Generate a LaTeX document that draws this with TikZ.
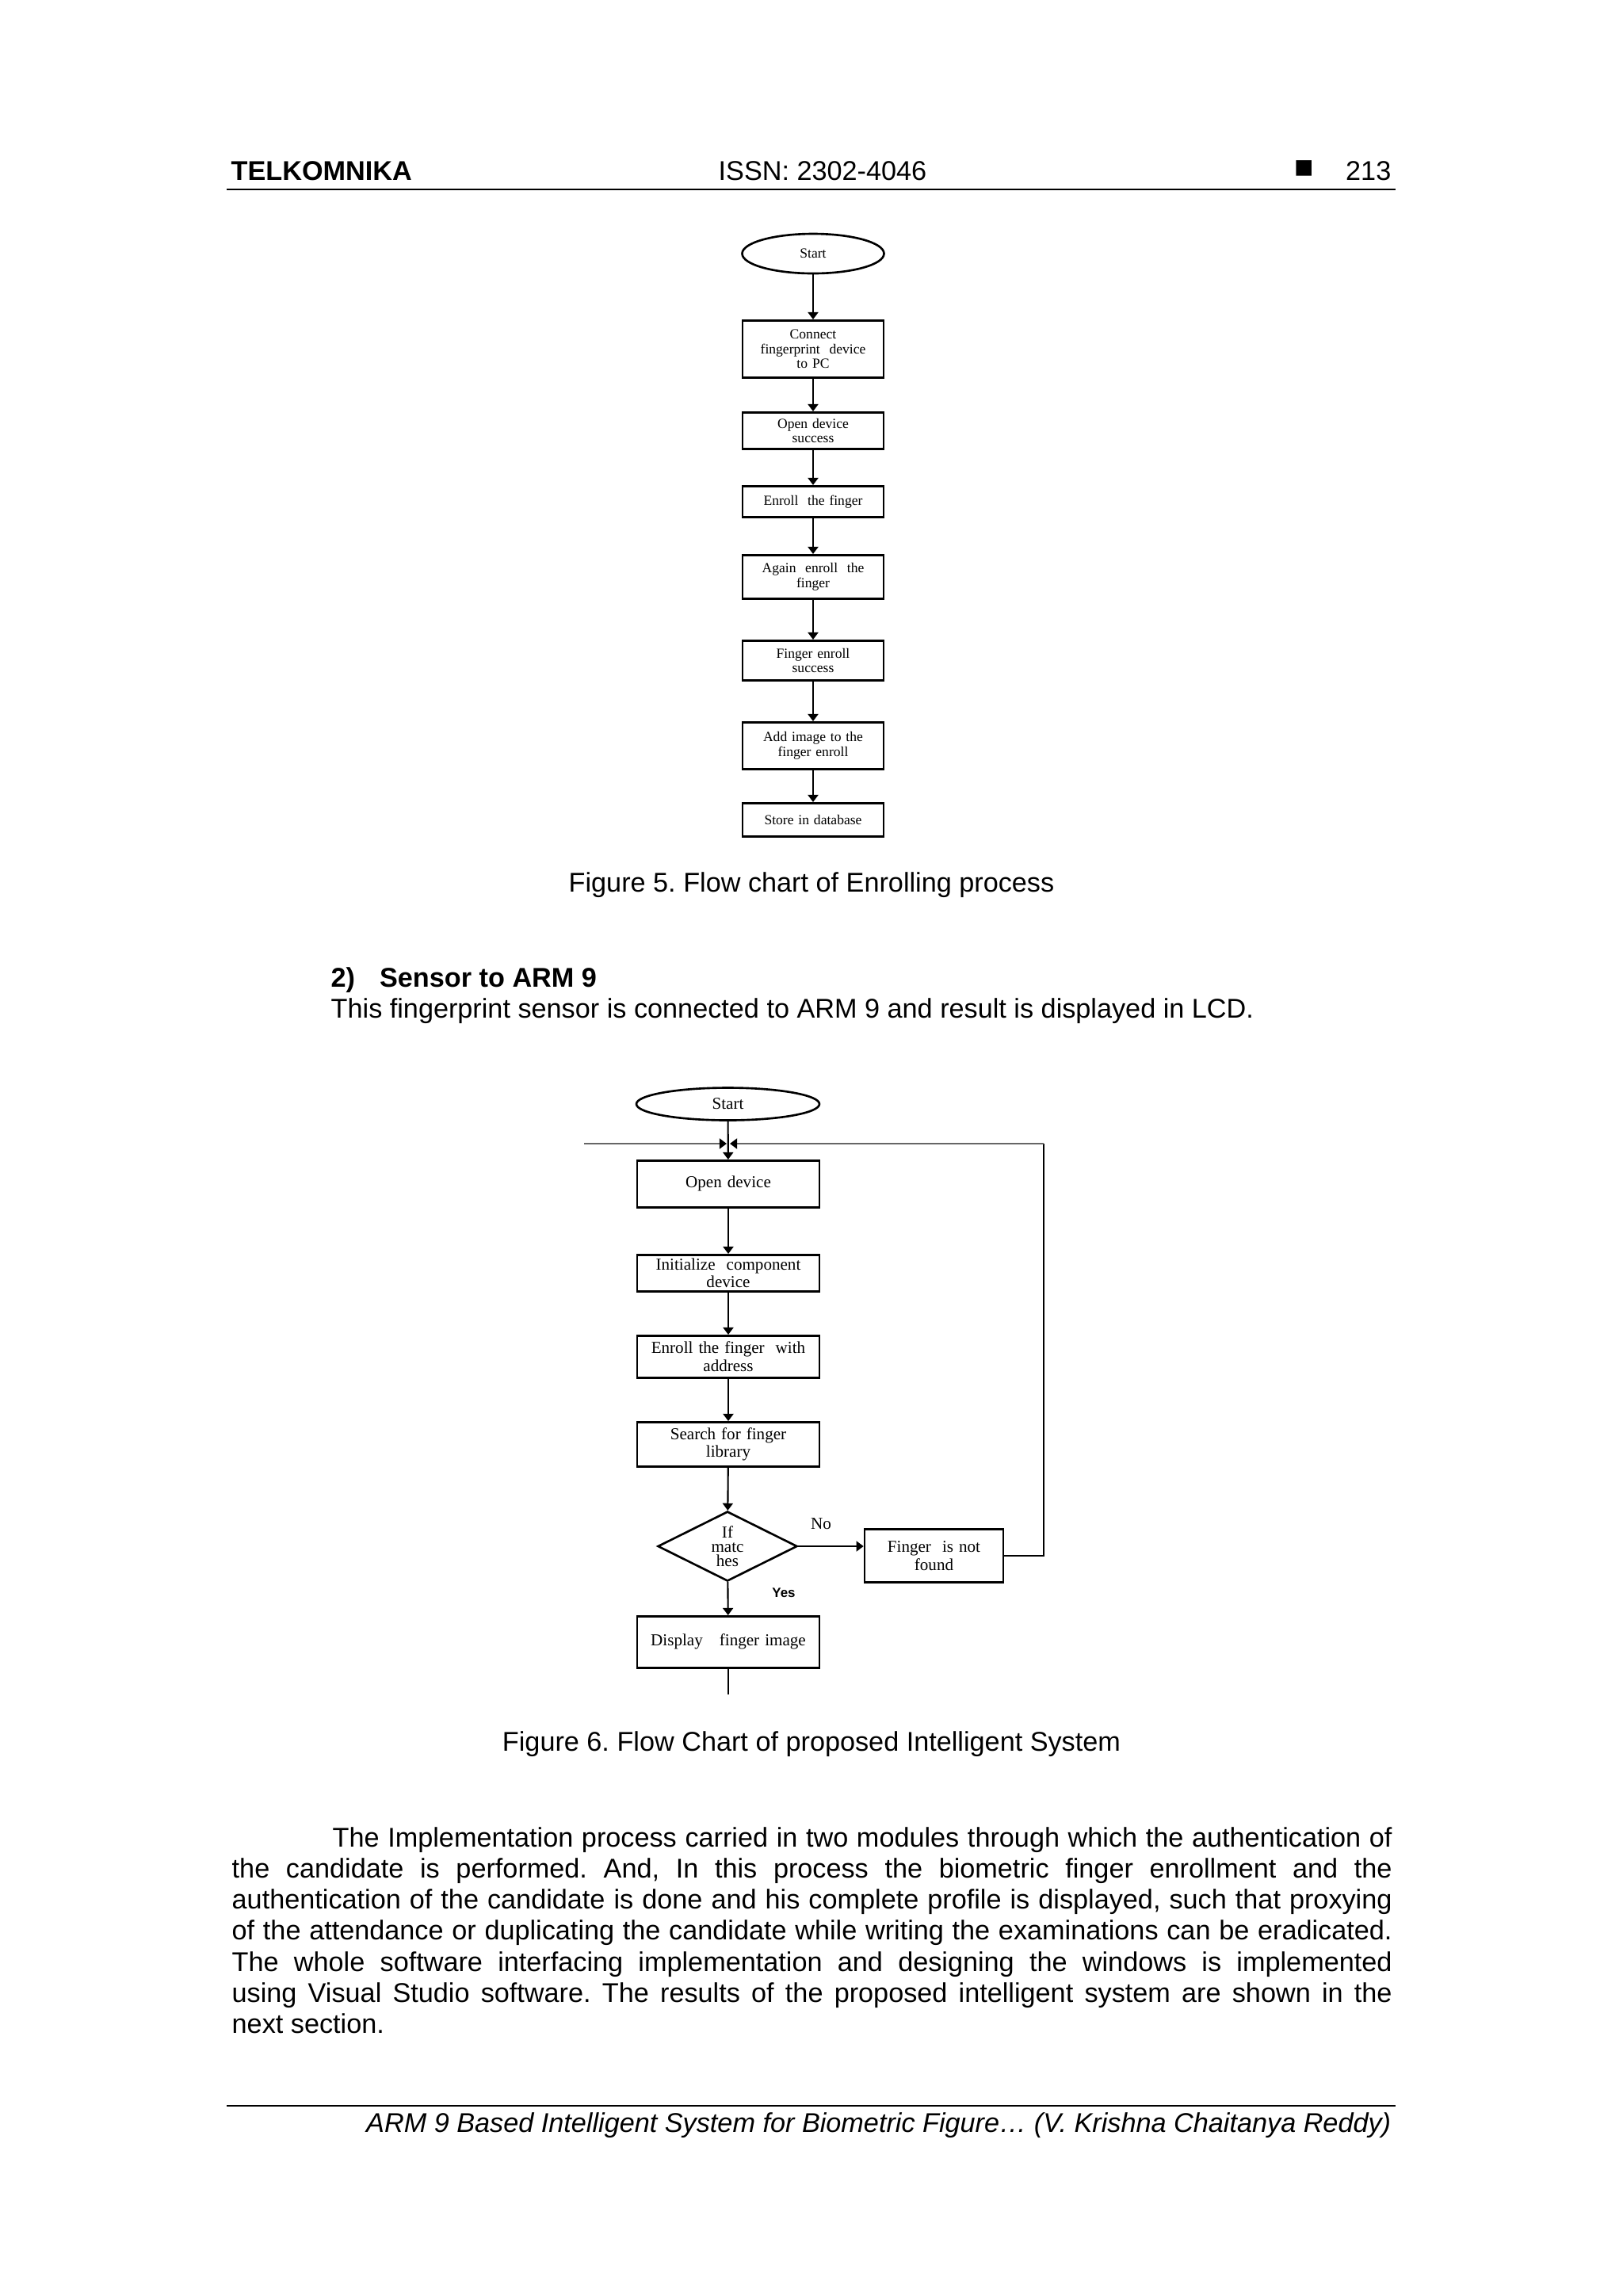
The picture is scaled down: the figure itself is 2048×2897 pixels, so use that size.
\documentclass[tikz,border=0pt]{standalone}
\usepackage{fontspec}
\setmainfont{Liberation Sans}
\newfontfamily\chartfont{Liberation Serif}
\usetikzlibrary{shapes.geometric,arrows.meta}
\newcommand{\bodysize}{\fontsize{9.74pt}{11.18pt}\selectfont\frenchspacing}
\newcommand{\enrolsize}{\chartfont\fontsize{5pt}{5.2pt}\selectfont}
\newcommand{\flowsize}{\chartfont\fontsize{6pt}{5.1pt}\selectfont}
\tikzstyle{texte} = [inner sep=0pt, font=\bodysize]
\tikzstyle{enrolstart} = [ellipse, draw=black, line width=0.75pt, minimum width=17.9mm, minimum height=5mm, inner sep=0pt, font=\enrolsize]
\tikzstyle{enrolbox} = [rectangle, draw=black, line width=0.75pt, minimum width=17.8mm, text width=17mm, inner sep=0pt, align=center, font=\enrolsize, anchor=north]
\tikzstyle{flowstart} = [ellipse, draw=black, line width=0.75pt, minimum width=23.1mm, minimum height=4.1mm, inner sep=0pt, font=\flowsize]
\tikzstyle{flowbox} = [rectangle, draw=black, line width=0.75pt, minimum width=23mm, text width=22mm, inner sep=0pt, align=center, font=\flowsize, anchor=north]
\tikzstyle{decision} = [diamond, draw=black, line width=0.75pt, aspect=2, minimum width=17.6mm, minimum height=8.8mm, inner sep=0pt, align=center, font=\flowsize]
\tikzstyle{lien} = [->, line width=0.6pt]
\tikzstyle{grisligne} = [-{Triangle[length=2.6pt,width=3.7pt,black]}, line width=0.6pt, draw=black!60]

\begin{document}
\begin{tikzpicture}[x=0.1mm, y=-0.1mm, >={Triangle[length=2.6pt,width=3.7pt]}]
\useasboundingbox (0,0) rectangle (2048,2897);

% en-tete
\node[texte, anchor=base west, font=\bodysize\bfseries] (revue) at (291,227) {TELKOMNIKA};
\node[texte, anchor=base west] (issn) at (906,227) {ISSN: 2302-4046};
\node[texte, font=\fontsize{11.5pt}{12pt}\selectfont] (carre) at (1646,214) {■};
\node[texte, anchor=base east] (page) at (1756,227) {213};
\draw[line width=0.7pt] (286,239) -- (1761,239);

% figure 5
\node[enrolstart] (debut) at (1026,320) {Start};
\node[enrolbox, minimum height=7.2mm] (connect) at (1026,403) {Connect\\fingerprint\ \ device\\to PC};
\node[enrolbox, minimum height=4.6mm] (ouvrir) at (1026,519) {Open device\\success};
\node[enrolbox, minimum height=3.9mm] (enrol) at (1026,612) {Enroll\ \ the finger};
\node[enrolbox, minimum height=5.5mm] (encore) at (1026,699) {Again\ \ enroll\ \ the\\finger};
\node[enrolbox, minimum height=5mm] (succes) at (1026,807) {Finger enroll\\success};
\node[enrolbox, minimum height=5.9mm] (image) at (1026,910) {Add image to the\\finger enroll};
\node[enrolbox, minimum height=4.2mm] (stocker) at (1026,1012) {Store in database};
\foreach \a/\b in {debut/connect, connect/ouvrir, ouvrir/enrol, enrol/encore, encore/succes, succes/image, image/stocker}
    \draw[lien, line width=0.7pt] (\a) -- (\b);

\node[texte, anchor=base] (fig5) at (1024,1125) {Figure 5. Flow chart of Enrolling process};

\node[texte, anchor=base west, font=\bodysize\bfseries] (titre) at (417,1245) {2)\hspace{3.1mm}Sensor to ARM 9};
\node[texte, anchor=base west] (phrase) at (417,1284) {This fingerprint sensor is connected to ARM 9 and result is displayed in LCD.};

% figure 6
\node[flowstart] (debut2) at (918.5,1393) {Start};
\node[flowbox, minimum height=5.9mm] (ouvrir2) at (919,1463) {Open device};
\node[flowbox, minimum height=4.6mm] (init) at (919,1582) {Initialize\ \ component\\device};
\node[flowbox, minimum height=5.3mm] (adresse) at (919,1684) {Enroll the finger\ \ with\\address};
\node[flowbox, minimum height=5.6mm] (cherche) at (919,1793) {Search for finger\\library};
\node[decision] (test) at (918,1951) {If\\matc\\hes};
\node[flowbox, minimum width=17.5mm, text width=16.5mm, minimum height=6.7mm] (absent) at (1178.5,1928) {Finger\ \ is not\\found};
\node[flowbox, minimum height=6.5mm] (affiche) at (919,2038) {Display\ \ \ finger image};
\node[inner sep=0pt, font=\flowsize] (non) at (1036,1923) {No};
\node[inner sep=0pt, font=\fontsize{4.8pt}{5pt}\selectfont\bfseries] (oui) at (989,2010) {Yes};
\coordinate (fin) at (919,2138);
\coordinate (gauche) at (737,1443);
\coordinate (coin) at (1317,1443);
\coordinate (jonctiong) at (917,1443);
\coordinate (jonctiond) at (921,1443);

\foreach \a/\b in {debut2/ouvrir2, ouvrir2/init, init/adresse, adresse/cherche, cherche/test, test/affiche}
    \draw[lien] (\a) -- (\b);
\draw[lien] (test.east) -- (test.east -| absent.west);
\draw[line width=0.6pt] (affiche) -- (fin);
\draw[line width=0.6pt] (absent.east) -- (absent.east -| coin) -- (coin);
\draw[grisligne] (coin) -- (jonctiond);
\draw[grisligne] (gauche) -- (jonctiong);

\node[texte, anchor=base] (fig6) at (1024,2209) {Figure 6. Flow Chart of proposed Intelligent System};

\node[texte, anchor=base west, text width=146.4mm, align=justify] (corps) at (292,2330) {\hyphenpenalty=10000 \hspace*{12.7mm}The Implementation process carried in two modules through which the authentication of\linebreak
the candidate is performed. And, In this process the biometric finger enrollment and the\linebreak
authentication of the candidate is done and his complete profile is displayed, such that proxying\linebreak
of the attendance or duplicating the candidate while writing the examinations can be eradicated.\linebreak
The whole software interfacing implementation and designing the windows is implemented\linebreak
using Visual Studio software. The results of the proposed intelligent system are shown in the\linebreak
next section.};

% pied de page
\draw[line width=0.7pt] (286,2657) -- (1761,2657);
\node[texte, anchor=base east, font=\bodysize\itshape] (pied) at (1756,2690) {ARM 9 Based Intelligent System for Biometric Figure… (V. Krishna Chaitanya Reddy)};
\end{tikzpicture}
\end{document}
